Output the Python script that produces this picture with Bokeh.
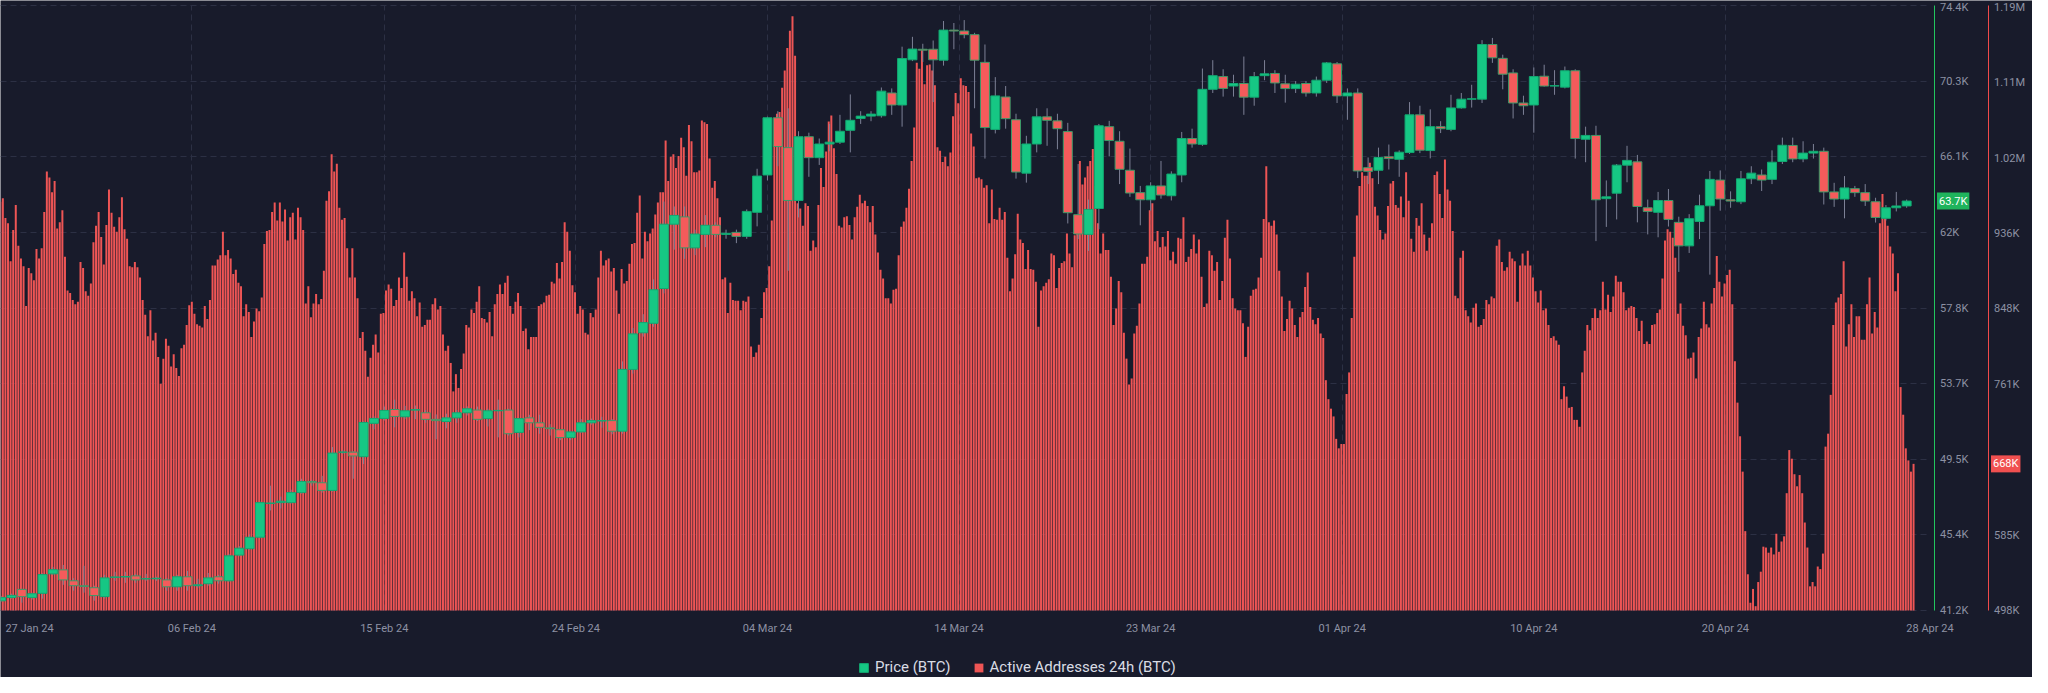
from bokeh.plotting import figure
from bokeh.models import Range1d, LinearAxis, FixedTicker, Legend, LegendItem, Label, ColumnDataSource
from bokeh.embed import file_html
from bokeh.resources import INLINE

# ---------------- data ----------------
# 12h candles of BTC price (thousand USD), 28 Jan 24 -> 28 Apr 24
price_open = [41.73,41.91,42.36,41.91,42.14,43.21,43.43,42.83,42.56,42.45,
41.96,43.02,43.04,43.10,42.94,42.94,42.88,42.50,43.05,42.56,
42.67,43.05,42.83,44.24,44.59,45.22,47.07,47.12,47.12,47.67,
48.28,48.21,47.79,49.89,49.89,49.64,51.47,51.74,52.23,51.83,
52.20,52.05,51.69,51.57,51.77,52.05,52.20,51.73,52.16,52.20,
50.97,51.77,51.50,51.22,51.12,50.69,51.00,51.50,51.60,51.62,
51.04,54.43,56.44,56.96,58.87,62.40,62.80,61.10,61.84,62.34,
61.84,61.95,61.73,63.05,65.10,68.24,66.60,63.70,67.20,66.05,
66.80,66.90,67.55,68.20,68.33,68.35,69.60,68.94,71.42,72.00,
72.00,71.40,73.05,73.00,72.80,71.28,67.60,69.38,68.13,65.20,
66.80,68.29,68.07,67.48,62.92,61.84,63.26,67.75,66.95,65.36,
64.13,63.74,64.50,63.96,65.10,67.10,66.78,69.80,70.50,69.98,
70.12,69.37,70.55,70.67,70.10,69.84,70.12,69.60,70.30,71.20,
69.44,69.60,65.50,65.36,66.10,65.96,66.33,68.40,66.44,67.75,
67.60,68.78,69.26,69.26,72.26,71.50,70.70,69.05,68.94,70.52,
69.98,69.92,70.82,67.06,67.27,63.80,64.10,65.64,65.82,63.30,
63.05,63.70,62.50,61.21,62.55,63.41,64.82,63.74,63.63,64.89,
65.10,64.86,65.84,66.72,65.98,66.30,66.40,64.17,63.78,64.35,
64.13,63.63,62.72,63.30,63.40]
price_close = [41.91,42.03,41.96,42.12,43.17,43.44,42.88,42.56,42.52,42.02,
42.99,43.04,43.06,42.88,42.94,42.97,42.50,43.05,42.56,42.61,
42.99,42.83,44.20,44.62,45.22,47.12,47.10,47.20,47.67,48.28,
48.21,47.79,49.84,49.89,49.68,51.52,51.74,52.18,51.85,52.16,
52.22,51.69,51.62,51.77,52.05,52.27,51.69,52.16,52.18,50.90,
51.73,51.50,51.25,51.18,50.69,51.00,51.50,51.62,51.62,51.04,
54.43,56.38,57.00,58.80,62.40,62.88,61.10,61.86,62.34,61.84,
61.90,61.73,63.10,65.04,68.24,66.66,63.70,67.20,66.05,66.80,
66.90,67.50,68.10,68.33,68.44,69.70,68.94,71.49,72.01,71.95,
71.42,73.05,73.00,72.80,71.40,67.70,69.44,68.19,65.26,66.80,
68.29,68.10,67.64,63.03,61.86,63.21,67.80,66.99,65.41,64.11,
63.74,64.50,64.00,65.15,67.10,66.80,69.80,70.55,69.85,70.12,
69.37,70.50,70.65,70.15,69.84,70.08,69.60,70.30,71.25,69.44,
69.60,65.32,65.30,66.06,66.00,66.35,68.40,66.46,67.75,67.64,
68.78,69.26,69.28,72.26,71.53,70.63,69.05,68.90,70.50,69.98,
70.00,70.82,67.10,67.27,63.74,63.90,65.64,65.90,63.37,63.10,
63.70,62.66,61.21,62.70,63.41,64.86,63.78,63.67,64.89,65.20,
64.82,65.80,66.73,65.98,66.30,66.40,64.17,63.78,64.39,64.13,
63.67,62.77,63.30,63.40,63.67]
price_high = [42.00,42.12,42.40,42.18,43.24,43.59,43.70,42.97,43.65,42.56,
43.16,43.32,43.32,43.21,43.21,43.05,42.99,43.16,43.37,42.94,
43.26,43.16,44.30,44.73,45.38,47.18,48.05,47.45,47.83,48.43,
48.37,48.59,50.17,50.00,49.95,51.58,51.85,52.39,52.77,52.43,
52.45,52.20,51.96,52.00,52.20,52.40,52.39,52.27,52.77,52.27,
51.77,51.94,51.94,51.42,51.12,51.05,51.70,51.73,51.83,51.70,
54.87,56.70,57.46,59.37,63.64,63.37,63.37,62.10,62.90,62.50,
62.10,62.10,63.21,65.44,68.30,68.60,68.76,67.50,67.42,67.10,
67.90,68.40,69.52,68.60,68.60,69.90,69.85,72.14,72.68,72.30,
72.48,73.55,73.44,73.60,72.90,72.26,70.47,69.98,68.46,67.25,
68.76,68.76,68.46,67.96,65.70,63.75,67.90,68.07,67.50,66.55,
64.50,64.70,65.87,65.30,67.46,67.64,70.94,71.40,70.90,70.60,
71.60,70.75,71.40,70.85,70.60,70.25,70.25,70.50,71.30,71.30,
69.85,69.85,66.06,66.60,66.77,66.45,69.10,68.90,68.70,68.05,
69.50,69.60,70.05,72.50,72.62,71.70,70.90,69.45,71.00,71.15,
70.85,71.05,70.90,67.75,67.80,64.80,65.70,66.70,66.20,63.75,
64.17,64.33,62.81,62.95,64.02,65.32,65.35,64.20,65.32,65.58,
65.40,66.45,67.15,67.15,66.95,66.80,66.60,64.67,65.04,64.50,
64.60,63.85,63.45,64.17,63.75]
price_low = [41.69,41.85,41.63,41.80,41.85,43.16,42.61,42.29,42.18,41.74,
41.85,42.83,42.72,42.72,42.83,42.83,42.29,42.29,42.29,42.45,
42.56,42.67,42.78,44.18,44.53,45.16,46.69,46.80,47.07,47.61,
48.05,47.67,47.72,49.79,48.43,49.24,51.14,51.63,51.25,51.70,
51.70,51.50,50.60,51.20,51.50,51.90,51.60,51.30,50.70,50.80,
50.70,51.10,50.90,50.80,50.55,50.55,50.95,51.40,51.23,50.87,
50.90,54.20,56.23,56.77,58.60,61.00,60.50,60.70,61.14,61.68,
61.60,61.36,61.60,62.28,64.80,65.58,59.84,62.77,65.00,65.65,
66.40,66.80,66.34,67.90,68.05,68.25,68.40,67.75,71.35,71.30,
69.10,71.10,72.00,72.60,68.76,66.00,67.38,67.64,64.90,64.68,
66.34,66.70,66.51,62.44,61.58,60.93,62.12,66.12,64.60,63.90,
62.34,63.14,63.80,63.70,64.70,66.60,66.70,69.60,69.40,69.40,
68.40,68.90,70.30,69.60,69.07,69.60,69.40,69.40,70.15,69.05,
68.13,64.93,64.60,64.60,65.40,65.00,66.25,66.30,66.01,67.40,
67.50,68.74,68.80,69.05,71.25,69.80,68.20,68.40,67.42,69.95,
69.50,69.85,66.00,65.80,61.47,62.25,62.66,64.70,62.50,61.84,
61.68,62.27,59.78,60.82,61.58,59.63,63.14,63.30,63.50,64.60,
64.22,64.60,65.70,65.80,65.80,66.00,63.48,63.35,62.72,63.90,
63.40,62.49,62.60,63.10,63.30]

# Active addresses 24h (thousands), 3-hourly samples, in six consecutive stretches
addr_jan_feb = [972,976,953,947,903,939,968,921,906,897,851,895,889,881,917,906,918,960,1007,1000,
983,996,941,948,962,908,869,866,858,853,856,902,895,868,863,877,925,944,960,931,
899,945,986,959,943,937,954,977,940,929,897,896,902,896,884,858,841,816,846,811,
820,792,761,790,813,805,781,795,779,770,802,806,829,852,856,842,830,828,826,851,
836,858,898,898,905,910,937,910,916,906,888,893,878,874,839,853,844,815,833,848,
845,861,923,938,939,960,971,950,971,949,963,927,954,959,928,965,954,939,854,874,
838,854,865,853,859,892,973]
addr_feb = [984,1027,1007,1016,965,951,953,918,884,918,884,860,814,821,799,769,791,806,818,797,
842,843,869,876,871,851,858,884,872,913,885,857,868,860,839,855,827,829,835,835,
853,860,847,851,818,799,805,785,752,772,756,778,796,829,826,847,843,856,874,837,
836,832,844,816,853,865,876,865,878,886,851,842,856,866,851,822,825,801,815,815,
815,851,853,855,863,864,879,877,901,883,902,948,937,915,875,867,842,851,847,820,
818,843,838,847,884,915,898,904,906,891,895,869,842,894,877,880,900,923,924,959,
979,906,937]
addr_mar_a = [926,935,941,957,971,983,983,1043,996,1024,1027,1011,1025,1046,1035,1002,1061,1042,1006,1006,
1008,1066,1064,1062,1022,988,996,976,954,882,884,843,878,858,857,857,846,857,856,862,
804,792,797,806,837,867,872,897,950,1038,1074,1076,1104,1124,1150,1170,1187,1141,970,964,
944,970,967,915,927,919,968,1011,989,1030,1065,1072,1034,1004,944,942,954,955,945,928,
954,966,980,970,973,967,948,967,934,913,893,883,860,860,854,870,871,910,943,949,
965,987,1019,1058,1133,1126,1148,1108,1130,1131,1124,1107,1035,1031,1018,1024,1013,1029,1071,1098,
1086,1115,1107,1106]
addr_mar_b = [1099,1051,1036,999,1000,998,988,991,947,986,952,951,965,951,960,907,868,883,911,958,
928,924,894,916,894,893,879,827,869,874,878,882,912,910,872,895,901,903,935,912,
896,933,948,1019,992,1000,1013,1019,1033,990,947,912,935,916,916,885,829,848,880,867,
820,790,760,767,819,828,854,900,900,908,962,970,926,938,919,931,920,938,904,914,
900,930,929,954,902,908,917,934,912,928,885,850,854,915,910,892,902,858,880,930,
951,906,860,848,846,846,831,792,827,863,870,871,884,907,952,1013,948,944,950,934,
892,862,822,836]
addr_apr_a = [857,848,829,815,838,844,873,890,850,835,830,837,819,814,765,743,732,723,697,686,
691,691,749,774,837,908,956,990,1006,1002,1002,1017,999,966,956,939,928,935,967,993,
996,968,965,978,954,1006,973,929,914,953,944,970,934,915,930,947,1003,1007,981,953,
1021,986,973,938,863,860,907,915,846,839,832,849,854,827,829,836,858,853,862,860,
921,928,902,892,896,914,906,903,856,898,912,898,915,898,884,868,855,869,846,848,
829,814,816,811,806,743,758,746,733,734,719,719,711,774,799,829,823,837,848,837,
846,879,847,864]
addr_apr_b = [844,862,886,879,879,867,846,849,851,850,837,822,834,807,810,807,829,830,843,847,
883,927,940,937,930,907,842,854,828,817,790,791,797,767,815,825,856,830,826,854,
872,909,879,862,877,887,893,853,787,739,700,659,590,540,507,523,503,531,543,572,
571,565,571,563,587,566,578,584,634,684,674,656,642,655,634,600,571,526,531,526,
549,546,564,688,703,748,829,855,861,865,903,804,830,853,815,839,839,812,812,853,
884,819,844,826,947,981,957,944,920,912,868,889,757,725,686,672,659,668]

date_ticks = [33, 221, 444, 666, 888, 1110, 1332, 1554, 1776, 1998, 2235]
date_labels = ["27 Jan 24", "06 Feb 24", "15 Feb 24", "24 Feb 24", "04 Mar 24", "14 Mar 24",
               "23 Mar 24", "01 Apr 24", "10 Apr 24", "20 Apr 24", "28 Apr 24"]
price_min, price_max = 41.2, 74.4
price_ticks = [41.2, 45.35, 49.5, 53.65, 57.8, 61.95, 66.1, 70.25, 74.4]
price_labels = ["41.2K", "45.4K", "49.5K", "53.7K", "57.8K", "62K", "66.1K", "70.3K", "74.4K"]
addr_min, addr_max = 498.0, 1199.4
addr_ticks = [498.0, 585.4, 672.9, 760.3, 847.7, 935.2, 1022.6, 1110.0, 1197.5]
addr_labels = ["498K", "585K", "", "761K", "848K", "936K", "1.02M", "1.11M", "1.19M"]
last_price = 63.67
last_addr = 668

# ---------------- build ----------------
BG = "#181b2b"
GREEN = "#16c784"
RED = "#f45b5b"
BAR_RED = "#ee5555"
TXT = "#8d91a3"
GRID = "#2c3044"
FONT = "Roboto"

addr = addr_jan_feb + addr_feb + addr_mar_a + addr_mar_b + addr_apr_a + addr_apr_b
bar_x = [3 * j - 1 for j in range(len(addr))]          # hours, 3h cadence
cx = [12 * k for k in range(len(price_open))]          # hours, 12h cadence

up = [c >= o for o, c in zip(price_open, price_close)]
def pick(flags, want):
    return dict(
        x=[x for x, f in zip(cx, flags) if f == want],
        top=[max(o, c) for o, c, f in zip(price_open, price_close, flags) if f == want],
        bottom=[min(o, c) for o, c, f in zip(price_open, price_close, flags) if f == want],
    )
src_up = ColumnDataSource(pick(up, True))
src_dn = ColumnDataSource(pick(up, False))
src_wick = ColumnDataSource(dict(x=cx, hi=price_high, lo=price_low))
src_bar = ColumnDataSource(dict(x=bar_x, top=addr))

# ---- geometry: one frame covering the whole canvas; axes & legend are placed inside it ----
FW, FH = 2032, 677
TOP_PAD, DATA_H = 5, 605                      # data area rows 5 .. 610 of the frame
X0 = -0.7
X_DATA_END = 2239.7                            # price axis line
HPP = (X_DATA_END - X0) / 1933.5
X_END = X0 + FW * HPP
X_ADDR_AXIS = X0 + 1987.5 * HPP
X_GRID_END = X0 + 1927 * HPP

pk = (price_max - price_min) / DATA_H
ak = (addr_max - addr_min) / DATA_H
bottom_pad = FH - TOP_PAD - DATA_H
y_price = Range1d(price_min - bottom_pad * pk, price_max + TOP_PAD * pk)
y_addr = Range1d(addr_min - bottom_pad * ak, addr_max + TOP_PAD * ak)

p = figure(frame_width=FW, frame_height=FH, x_range=Range1d(X0, X_END), y_range=y_price,
           output_backend="svg", toolbar_location=None,
           background_fill_color=BG, border_fill_color=BG, outline_line_color=None,
           min_border_left=0, min_border_top=0, min_border_right=0, min_border_bottom=0)
p.yaxis.visible = False
p.extra_y_ranges = {"addr": y_addr}

# grid (kept inside the data area)
p.xgrid.ticker = FixedTicker(ticks=date_ticks[1:-1])
p.ygrid.ticker = FixedTicker(ticks=price_ticks)
for g in (p.xgrid, p.ygrid):
    g.grid_line_color = GRID
    g.grid_line_dash = "6 4"
    g.grid_line_width = 1
try:
    p.ygrid[0].cross_bounds = (X0, X_GRID_END)
    p.xgrid[0].cross_bounds = (price_min, price_max)
except Exception:
    p.ygrid[0].visible = False
    p.xgrid[0].visible = False
    p.segment(x0=[X0] * len(price_ticks), x1=[X_GRID_END] * len(price_ticks),
              y0=price_ticks, y1=price_ticks, line_color=GRID, line_dash="6 4", level="underlay")
    gt = date_ticks[1:-1]
    p.segment(x0=gt, x1=gt, y0=[price_min] * len(gt), y1=[price_max] * len(gt),
              line_color=GRID, line_dash="6 4", level="underlay")

def style_axis(ax, line_color):
    ax.axis_line_color = line_color
    ax.major_tick_line_color = None
    ax.minor_tick_line_color = None
    ax.major_tick_out = 0
    ax.major_tick_in = 0
    ax.minor_tick_out = 0
    ax.major_label_text_color = TXT
    ax.major_label_text_font = FONT
    ax.major_label_text_font_size = "11px"
    ax.major_label_standoff = 6

# x axis, drawn along the bottom of the data area
xa = p.xaxis[0]
xa.fixed_location = price_min
xa.ticker = FixedTicker(ticks=date_ticks)
xa.major_label_overrides = {t: l for t, l in zip(date_ticks, date_labels)}
style_axis(xa, None)
xa.major_label_standoff = 11

# price axis
pa = LinearAxis(ticker=FixedTicker(ticks=price_ticks), fixed_location=X_DATA_END,
                bounds=(price_min, price_max))
pa.major_label_overrides = {t: l for t, l in zip(price_ticks, price_labels)}
style_axis(pa, "#22c55e")
p.add_layout(pa, "right")

# address axis
ra = LinearAxis(y_range_name="addr", ticker=FixedTicker(ticks=addr_ticks),
                fixed_location=X_ADDR_AXIS, bounds=(addr_min, addr_max))
ra.major_label_overrides = {t: l for t, l in zip(addr_ticks, addr_labels)}
style_axis(ra, "#f04a4a")
p.add_layout(ra, "right")

# bars
r_bar = p.vbar(x="x", top="top", bottom=addr_min, width=2.3, source=src_bar, y_range_name="addr",
               fill_color=BAR_RED, line_color=None)

# candles
p.segment(x0="x", y0="lo", x1="x", y1="hi", source=src_wick, line_color="#7d8196", line_width=1)
r_up = p.vbar(x="x", top="top", bottom="bottom", width=10.4, source=src_up,
              fill_color=GREEN, line_color="#12a871", line_width=1)
r_dn = p.vbar(x="x", top="top", bottom="bottom", width=10.4, source=src_dn,
              fill_color=RED, line_color="#3c9a68", line_width=1)

# last value badges
p.add_layout(Label(x=X_DATA_END, y=last_price, x_offset=3, text="63.7K", text_baseline="middle",
                   text_color="white", text_font=FONT, text_font_size="11px",
                   background_fill_color="#1fb35c", padding=2))
p.add_layout(Label(x=X_ADDR_AXIS, y=last_addr, y_range_name="addr", x_offset=3, text="668K",
                   text_baseline="middle", text_color="white", text_font=FONT,
                   text_font_size="11px", background_fill_color="#f05050", padding=2))

# legend, inside the frame below the date labels
legend = Legend(items=[LegendItem(label="Price (BTC)", renderers=[r_up]),
                       LegendItem(label="Active Addresses 24h (BTC)", renderers=[r_bar])],
                orientation="horizontal", location=(858, 1),
                background_fill_alpha=0, border_line_color=None,
                label_text_color="#d9dce4", label_text_font=FONT, label_text_font_size="15px",
                glyph_width=11, glyph_height=11, spacing=22, margin=0, padding=2,
                label_standoff=6, label_height=16)
p.add_layout(legend, "center")

open("out.html", "w").write(file_html(p, INLINE))
